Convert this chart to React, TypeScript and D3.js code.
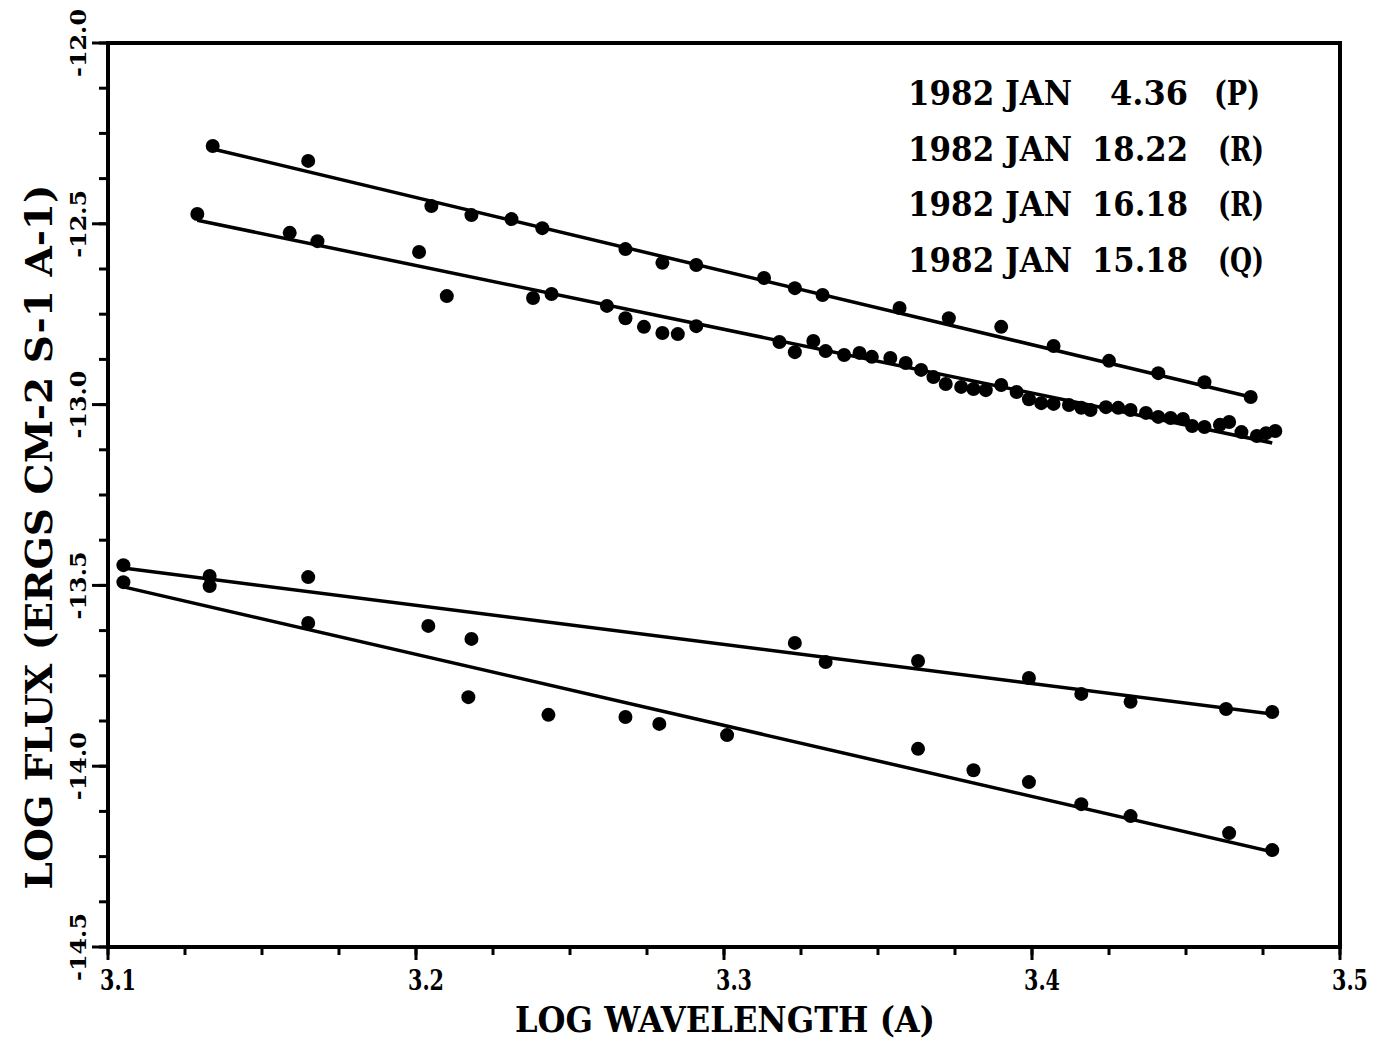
import React from "react";
import * as d3 from "d3";

// ---------- data (log wavelength, log flux) ----------
const seriesNames = ["1982 JAN 4.36 (P)", "1982 JAN 18.22 (R)", "1982 JAN 16.18 (R)", "1982 JAN 15.18 (Q)"];

const pX = [3.134, 3.165, 3.205, 3.218, 3.231, 3.241, 3.268, 3.280, 3.291, 3.313, 3.323, 3.332, 3.357, 3.373, 3.390, 3.407, 3.425, 3.441, 3.456, 3.471];
const pY = [-12.285, -12.326, -12.451, -12.476, -12.487, -12.512, -12.570, -12.608, -12.614, -12.650, -12.678, -12.697, -12.733, -12.761, -12.785, -12.838, -12.879, -12.913, -12.938, -12.979];

const r1X = [3.129, 3.159, 3.168, 3.201, 3.210, 3.238, 3.244, 3.262, 3.268, 3.274, 3.280, 3.285, 3.291, 3.318, 3.323, 3.329, 3.333, 3.339, 3.344, 3.348, 3.354, 3.359, 3.364, 3.368, 3.372, 3.377, 3.381, 3.385, 3.390, 3.395, 3.399, 3.403, 3.407, 3.412, 3.416, 3.419, 3.424, 3.428, 3.432, 3.437, 3.441, 3.445, 3.449, 3.452, 3.456, 3.461, 3.464, 3.468, 3.473, 3.476, 3.479];
const r1Y = [-12.473, -12.525, -12.548, -12.578, -12.700, -12.705, -12.694, -12.727, -12.761, -12.785, -12.802, -12.805, -12.783, -12.827, -12.855, -12.824, -12.852, -12.863, -12.857, -12.868, -12.871, -12.885, -12.904, -12.924, -12.943, -12.951, -12.957, -12.960, -12.946, -12.965, -12.985, -12.996, -12.998, -13.001, -13.009, -13.015, -13.007, -13.009, -13.015, -13.023, -13.034, -13.037, -13.040, -13.059, -13.062, -13.056, -13.048, -13.076, -13.087, -13.079, -13.073];

const r2X = [3.105, 3.133, 3.165, 3.323, 3.333, 3.363, 3.399, 3.416, 3.432, 3.463, 3.478];
const r2Y = [-13.444, -13.474, -13.477, -13.659, -13.712, -13.709, -13.756, -13.800, -13.822, -13.842, -13.850];

const qX = [3.105, 3.133, 3.165, 3.204, 3.218, 3.217, 3.243, 3.268, 3.279, 3.301, 3.363, 3.381, 3.399, 3.416, 3.432, 3.464, 3.478];
const qY = [-13.491, -13.502, -13.604, -13.612, -13.648, -13.809, -13.858, -13.864, -13.883, -13.914, -13.952, -14.011, -14.044, -14.105, -14.138, -14.185, -14.232];

// fitted lines: [x1, x2], [y1, y2]
const fitX = [[3.134, 3.471], [3.129, 3.478], [3.105, 3.478], [3.105, 3.478]];
const fitY = [[-12.293, -12.979], [-12.490, -13.106], [-13.452, -13.856], [-13.504, -14.237]];

const xTickVals = [3.1, 3.2, 3.3, 3.4, 3.5];
const xTickLabels = ["3.1", "3.2", "3.3", "3.4", "3.5"];
const yTickVals = [-12.0, -12.5, -13.0, -13.5, -14.0, -14.5];
const yTickLabels = ["-12.0", "-12.5", "-13.0", "-13.5", "-14.0", "-14.5"];

const legendDate = ["1982 JAN", "1982 JAN", "1982 JAN", "1982 JAN"];
const legendDay = ["4.36", "18.22", "16.18", "15.18"];
const legendType = ["(P)", "(R)", "(R)", "(Q)"];

const xTitle = "LOG WAVELENGTH (A)";
const yTitle = "LOG FLUX (ERGS CM-2 S-1 A-1)";

const FONT = "'DejaVu Serif', 'Liberation Serif', serif";

export default function App() {
  const x = d3.scaleLinear().domain([3.1, 3.5]).range([108, 1340]);
  const y = d3.scaleLinear().domain([-12, -14.5]).range([43, 947]);

  const xs = [pX, r1X, r2X, qX];
  const ys = [pY, r1Y, r2Y, qY];

  const xMinor = d3.range(0, 17).map((i) => 3.1 + i * 0.025);
  const yMinor = d3.range(0, 21).map((i) => -12 - i * 0.125);

  const line = d3
    .line<[number, number]>()
    .x((d) => x(d[0]))
    .y((d) => y(d[1]));

  const left = x(3.1);
  const right = x(3.5);
  const top = y(-12);
  const bottom = y(-14.5);

  return (
    <svg
      width={1378}
      height={1042}
      style={{ position: "absolute", left: 0, top: 0, background: "#fff" }}
      fontFamily={FONT}
    >
      <rect x={0} y={0} width={1378} height={1042} fill="#fff" />
      {/* frame */}
      <rect x={left} y={top} width={right - left} height={bottom - top} fill="none" stroke="#000" strokeWidth={4} />

      {/* x ticks */}
      {xMinor.map((v, i) => (
        <line key={"xm" + i} x1={x(v)} x2={x(v)} y1={bottom} y2={bottom + 8} stroke="#000" strokeWidth={3} />
      ))}
      {xTickVals.map((v, i) => (
        <g key={"xt" + i}>
          <line x1={x(v)} x2={x(v)} y1={bottom} y2={bottom + 13} stroke="#000" strokeWidth={3} />
          <text
            x={x(v) + 10}
            y={bottom + 43}
            textAnchor="middle"
            fontSize={27}
            fontWeight="bold"
            textLength={36}
            lengthAdjust="spacingAndGlyphs"
          >
            {xTickLabels[i]}
          </text>
        </g>
      ))}

      {/* y ticks */}
      {yMinor.map((v, i) => (
        <line key={"ym" + i} x1={left - 9} x2={left} y1={y(v)} y2={y(v)} stroke="#000" strokeWidth={3} />
      ))}
      {yTickVals.map((v, i) => (
        <g key={"yt" + i}>
          <line x1={left - 16} x2={left} y1={y(v)} y2={y(v)} stroke="#000" strokeWidth={3} />
          <text
            transform={`translate(${86},${y(v)}) rotate(-90)`}
            textAnchor="middle"
            fontSize={22}
            fontWeight="bold"
            textLength={68}
            lengthAdjust="spacingAndGlyphs"
          >
            {yTickLabels[i]}
          </text>
        </g>
      ))}

      {/* axis titles */}
      <text
        x={725}
        y={1032}
        textAnchor="middle"
        fontSize={36}
        fontWeight="bold"
        textLength={420}
        lengthAdjust="spacingAndGlyphs"
      >
        {xTitle}
      </text>
      <text
        transform={`translate(${52},${537}) rotate(-90)`}
        textAnchor="middle"
        fontSize={38}
        fontWeight="bold"
        textLength={705}
        lengthAdjust="spacingAndGlyphs"
      >
        {yTitle}
      </text>

      {/* fit lines */}
      {fitX.map((fx, i) => (
        <path
          key={"fit" + i}
          d={line([
            [fx[0], fitY[i][0]],
            [fx[1], fitY[i][1]],
          ]) as string}
          fill="none"
          stroke="#000"
          strokeWidth={3.5}
        />
      ))}

      {/* points */}
      {xs.map((sx, si) => (
        <g key={"s" + si} aria-label={seriesNames[si]}>
          {sx.map((v, j) => (
            <circle key={j} cx={x(v)} cy={y(ys[si][j])} r={7} fill="#000" />
          ))}
        </g>
      ))}

      {/* legend */}
      {legendDate.map((d, i) => {
        const by = 105 + i * 55.7;
        return (
          <g key={"lg" + i} fontWeight="bold" fontSize={34}>
            <text x={908} y={by} textLength={164} lengthAdjust="spacingAndGlyphs">
              {d}
            </text>
            <text
              x={1188}
              y={by}
              textAnchor="end"
              textLength={legendDay[i].length === 4 ? 78 : 96}
              lengthAdjust="spacingAndGlyphs"
            >
              {legendDay[i]}
            </text>
            <text x={i === 0 ? 1214 : 1218} y={by} textLength={46} lengthAdjust="spacingAndGlyphs">
              {legendType[i]}
            </text>
          </g>
        );
      })}
    </svg>
  );
}
